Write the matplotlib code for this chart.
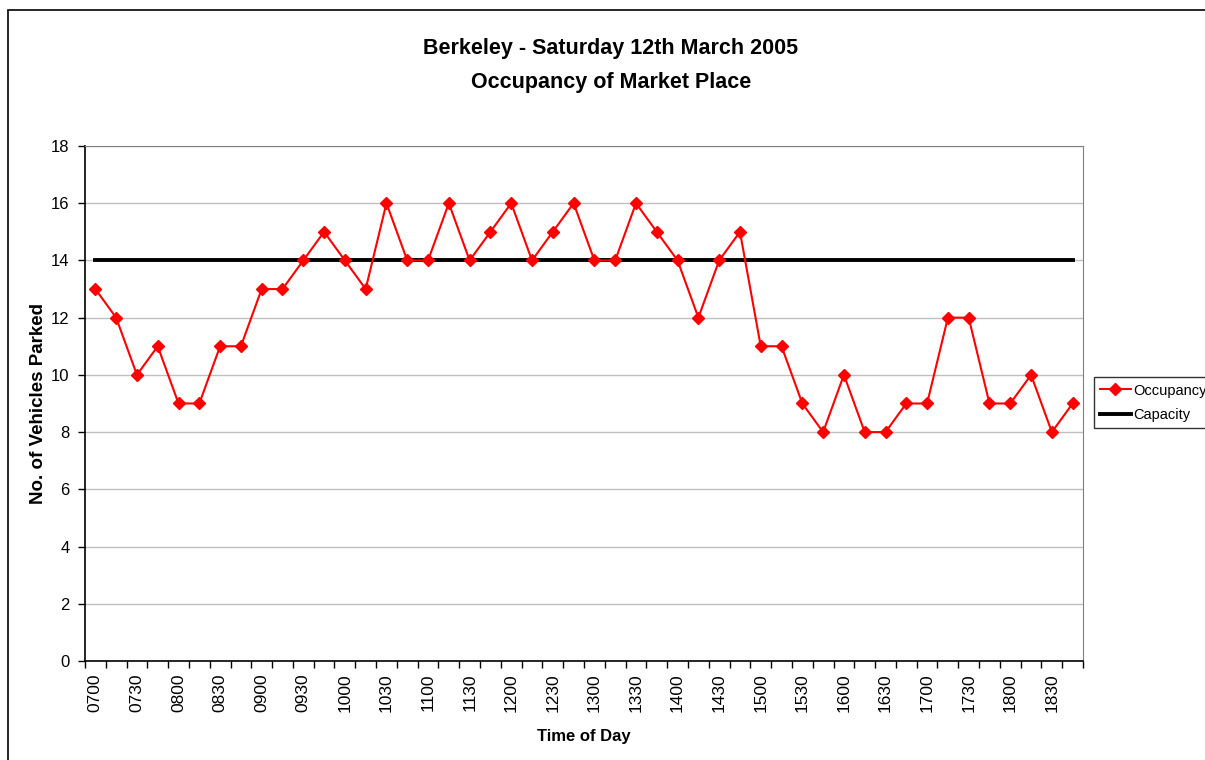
import matplotlib

matplotlib.use("Agg")
import matplotlib.pyplot as plt
from matplotlib.patches import Rectangle

plt.rcParams["font.family"] = ["Liberation Sans", "DejaVu Sans"]

# 15-minute slots from 0700 to 1845
times = ["0700", "0715", "0730", "0745", "0800", "0815", "0830", "0845",
         "0900", "0915", "0930", "0945", "1000", "1015", "1030", "1045",
         "1100", "1115", "1130", "1145", "1200", "1215", "1230", "1245",
         "1300", "1315", "1330", "1345", "1400", "1415", "1430", "1445",
         "1500", "1515", "1530", "1545", "1600", "1615", "1630", "1645",
         "1700", "1715", "1730", "1745", "1800", "1815", "1830", "1845"]
occupancy = [13, 12, 10, 11, 9, 9, 11, 11,
             13, 13, 14, 15, 14, 13, 16, 14,
             14, 16, 14, 15, 16, 14, 15, 16,
             14, 14, 16, 15, 14, 12, 14, 15,
             11, 11, 9, 8, 10, 8, 8, 9,
             9, 12, 12, 9, 9, 10, 8, 9]
capacity = 14

fig = plt.figure(figsize=(12.05, 7.6), dpi=100)
ax = fig.add_axes([0.0705, 0.1303, 0.8283, 0.6776])

x = list(range(len(times)))
ax.plot(x, occupancy, color="#ff0000", marker="D", markersize=6.5,
        linewidth=1.5, label="Occupancy", zorder=3)
ax.plot(x, [capacity] * len(x), color="black", linewidth=2.8,
        label="Capacity", zorder=2)

ax.set_xlim(-0.5, len(x) - 0.5)
ax.set_ylim(0, 18)
ax.set_yticks(range(0, 19, 2))
ax.yaxis.grid(True, color="#c0c0c0", linewidth=1)
ax.set_axisbelow(True)

# category axis: tick marks between slots, labels on every other slot
ax.set_xticks([i - 0.5 for i in range(len(x) + 1)])
ax.set_xticklabels([])
ax.set_xticks(x[::2], minor=True)
ax.set_xticklabels(times[::2], minor=True, rotation=90, fontsize=12.5)
ax.tick_params(axis="x", which="major", length=5, width=1, direction="out")
ax.tick_params(axis="x", which="minor", length=0, pad=9)
ax.tick_params(axis="y", length=5, width=1, labelsize=12, pad=6)

for side in ["left", "bottom"]:
    ax.spines[side].set_color("black")
    ax.spines[side].set_linewidth(1.2)
for side in ["top", "right"]:
    ax.spines[side].set_color("#808080")

ax.set_xlabel("Time of Day", fontsize=12, fontweight="bold", labelpad=12)
ax.set_ylabel("No. of Vehicles Parked", fontsize=13.5, fontweight="bold",
              labelpad=3)

fig.text(0.507, 0.936, "Berkeley - Saturday 12th March 2005",
         ha="center", va="center", fontsize=15.5, fontweight="bold")
fig.text(0.507, 0.891, "Occupancy of Market Place",
         ha="center", va="center", fontsize=15.5, fontweight="bold")

leg = fig.legend(loc="upper left", bbox_to_anchor=(0.9075, 0.504),
                 fontsize=10.5, frameon=True, fancybox=False, handlelength=2.1,
                 borderpad=0.45, labelspacing=0.7, handletextpad=0.2,
                 borderaxespad=0)
leg.get_frame().set_edgecolor("black")
leg.get_frame().set_linewidth(1)

# outer chart border, running off the right and bottom edges
fig.patches.append(Rectangle((8 / 1205, -0.05), 1.2, 0.05 + 1 - 10 / 760,
                             transform=fig.transFigure, fill=False,
                             edgecolor="black", linewidth=1.2))

fig.savefig("out.png", dpi=100)
